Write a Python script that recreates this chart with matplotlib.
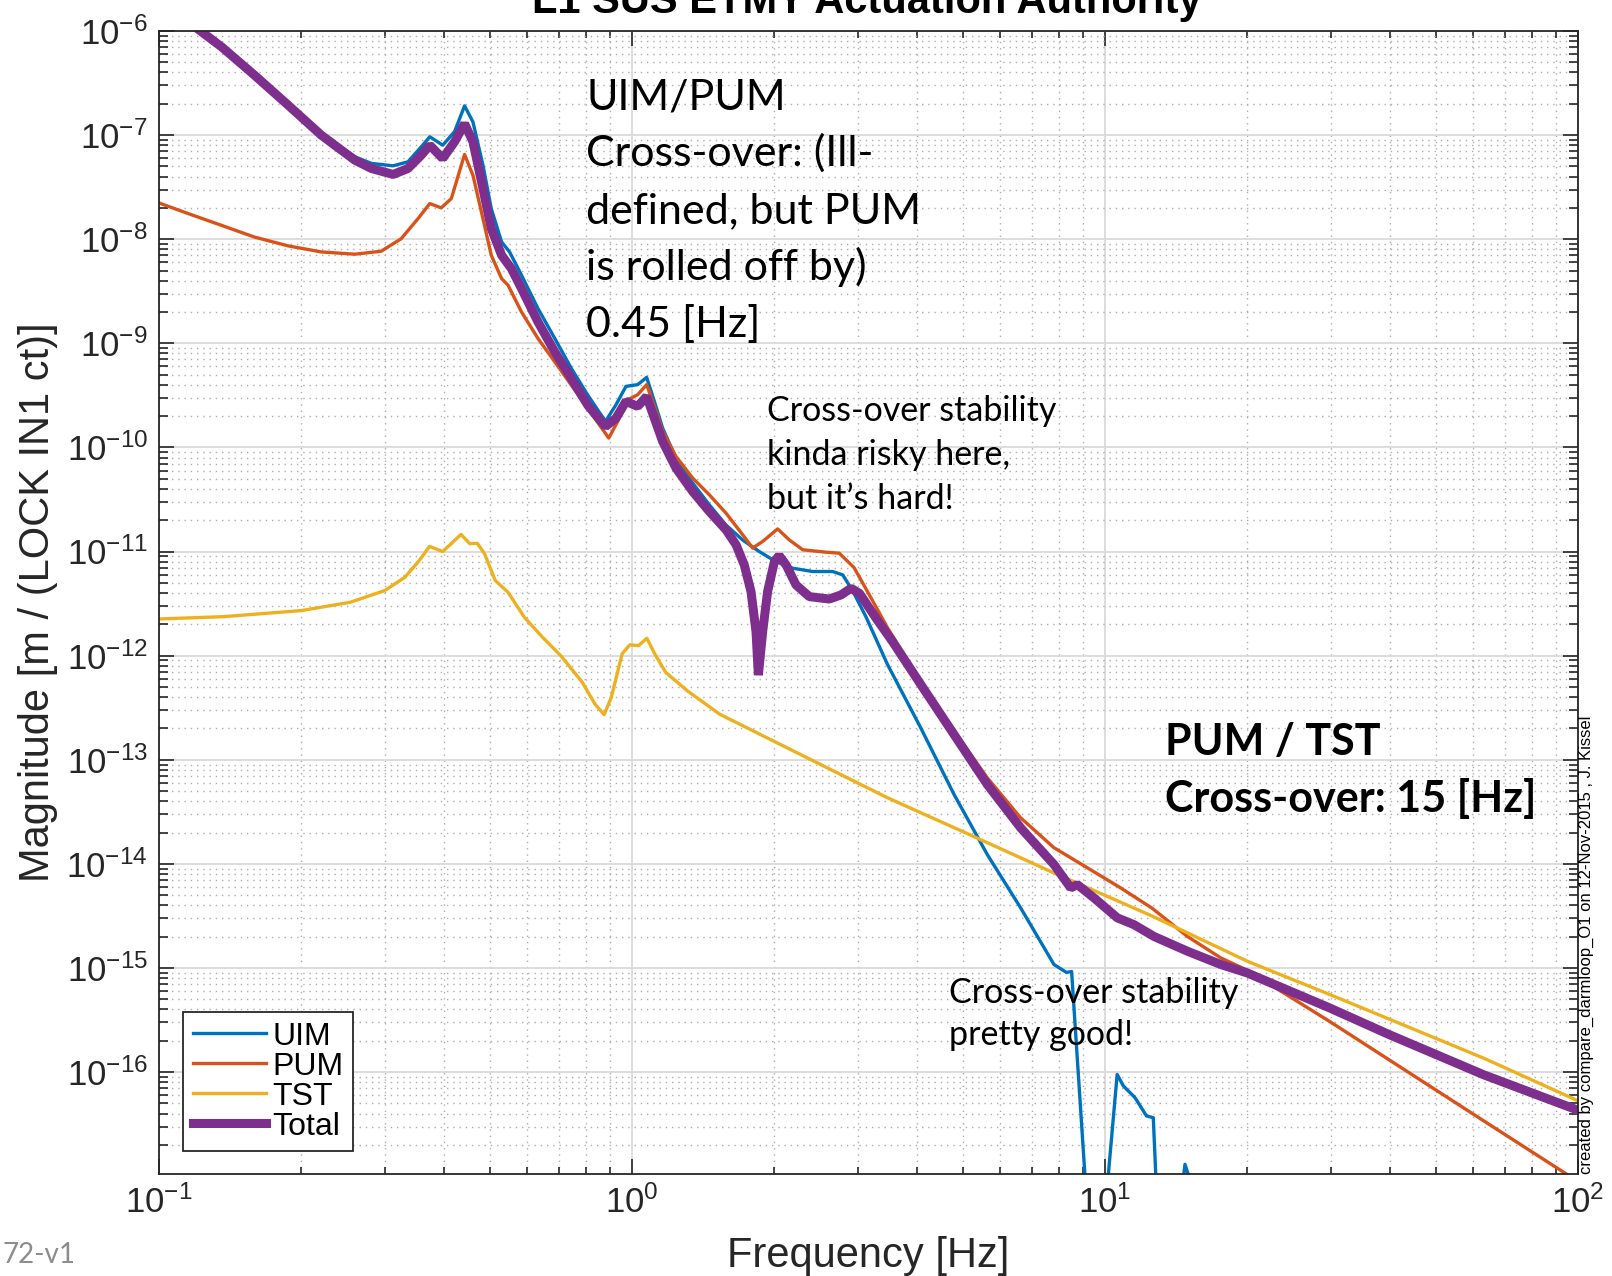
import numpy as np
import matplotlib
matplotlib.use("Agg")
import matplotlib.pyplot as plt
from matplotlib.ticker import LogLocator, NullFormatter

plt.rcParams['font.family'] = 'Liberation Sans'
plt.rcParams['mathtext.fontset'] = 'custom'
plt.rcParams['mathtext.rm'] = 'Liberation Sans'
plt.rcParams['mathtext.it'] = 'Liberation Sans:italic'
plt.rcParams['mathtext.bf'] = 'Liberation Sans:bold'
plt.rcParams['axes.unicode_minus'] = False

## actuator strength curves, |m / ct| vs Hz
freq_uim = [0.1, 0.120, 0.1355, 0.159, 0.1875, 0.2203, 0.2594, 0.2812, 0.3126, 0.336,
            0.3586, 0.3736, 0.398, 0.4216, 0.4426, 0.461, 0.484, 0.504, 0.530, 0.551,
            0.584, 0.633, 0.687, 0.745, 0.807, 0.879, 0.925, 0.971, 1.028, 1.074,
            1.115, 1.161, 1.239, 1.344, 1.457, 1.580, 1.714, 1.858, 2.015, 2.186,
            2.41, 2.656, 2.789, 2.928, 3.125, 3.467, 4.077, 4.795, 5.638, 6.632,
            7.8, 8.29, 8.50, 9.18, 10.0, 10.61, 10.93, 11.57, 12.24, 12.65,
            13.18, 14.45, 14.76, 15.49, 100]
mag_uim = [2.0e-6, 1.07e-6, 7.1e-7, 3.8e-7, 1.96e-7, 1.02e-7, 6.2e-8, 5.35e-8, 5.07e-8, 5.54e-8,
           7.73e-8, 9.64e-8, 8.0e-8, 1.08e-7, 1.91e-7, 1.34e-7, 5.15e-8, 1.97e-8, 9.42e-9, 7.55e-9,
           4.51e-9, 2.15e-9, 1.11e-9, 5.7e-10, 3.16e-10, 1.78e-10, 2.57e-10, 3.86e-10, 4.01e-10, 4.71e-10,
           2.77e-10, 1.53e-10, 7.89e-11, 4.54e-11, 2.81e-11, 1.80e-11, 1.29e-11, 1.0e-11, 8.0e-12, 6.92e-12,
           6.43e-12, 6.43e-12, 5.97e-12, 4.2e-12, 2.35e-12, 8.26e-13, 2.03e-13, 4.65e-14, 1.23e-14, 3.78e-15,
           1.08e-15, 9.06e-16, 9.25e-16, 4.4e-18, 4.5e-18, 9.5e-17, 7.38e-17, 5.69e-17, 3.79e-17, 3.65e-17,
           5e-19, 5.9e-18, 1.3e-17, 6.6e-18, 1e-20]

freq_pum = [0.1, 0.115, 0.1355, 0.159, 0.1875, 0.2203, 0.2594, 0.295, 0.325, 0.353,
            0.3736, 0.395, 0.415, 0.4426, 0.461, 0.484, 0.504, 0.530, 0.547, 0.584,
            0.633, 0.687, 0.745, 0.807, 0.893, 0.933, 0.979, 1.028, 1.074, 1.115,
            1.161, 1.239, 1.344, 1.457, 1.580, 1.714, 1.799, 1.889, 2.032, 2.152,
            2.296, 2.571, 2.743, 2.947, 3.199, 3.467, 4.077, 4.795, 5.638, 6.632,
            7.8, 9.18, 10.79, 12.58, 14.93, 17.57, 20.0, 29.9, 63.2, 100]
mag_pum = [2.23e-8, 1.77e-8, 1.36e-8, 1.05e-8, 8.63e-9, 7.55e-9, 7.18e-9, 7.67e-9, 1.01e-8, 1.58e-8,
           2.2e-8, 2.0e-8, 2.46e-8, 6.52e-8, 4.12e-8, 1.58e-8, 7.02e-9, 4.19e-9, 3.61e-9, 2.0e-9,
           1.11e-9, 6.62e-10, 3.94e-10, 2.36e-10, 1.23e-10, 1.78e-10, 2.87e-10, 3.21e-10, 4.01e-10, 2.48e-10,
           1.43e-10, 8.19e-11, 5.07e-11, 3.51e-11, 2.34e-11, 1.45e-11, 1.08e-11, 1.25e-11, 1.65e-11, 1.29e-11,
           1.04e-11, 9.86e-12, 9.64e-12, 7.02e-12, 3.61e-12, 1.86e-12, 5.70e-13, 1.89e-13, 6.71e-14, 2.77e-14,
           1.43e-14, 9.16e-15, 5.88e-15, 3.75e-15, 2.01e-15, 1.25e-15, 9.5e-16, 3.05e-16, 3.4e-17, 8.9e-18]

freq_tst = [0.1, 0.137, 0.2, 0.254, 0.3, 0.331, 0.355, 0.373, 0.398, 0.435,
            0.454, 0.471, 0.488, 0.514, 0.547, 0.592, 0.647, 0.707, 0.785, 0.835,
            0.873, 0.904, 0.953, 0.989, 1.033, 1.075, 1.117, 1.178, 1.309, 1.53,
            2.505, 3.467, 5.12, 7.8, 12.47, 20.0, 29.9, 63.2, 100]
mag_tst = [2.25e-12, 2.37e-12, 2.71e-12, 3.26e-12, 4.22e-12, 5.66e-12, 8.19e-12, 1.12e-11, 1.0e-11, 1.46e-11,
           1.19e-11, 1.20e-11, 9.5e-12, 5.26e-12, 4.06e-12, 2.34e-12, 1.50e-12, 1.0e-12, 5.55e-13, 3.43e-13,
           2.71e-13, 3.97e-13, 1.04e-12, 1.27e-12, 1.25e-12, 1.47e-12, 1.04e-12, 6.92e-13, 4.6e-13, 2.75e-13,
           9.0e-14, 4.32e-14, 1.95e-14, 8.18e-15, 3.21e-15, 1.16e-15, 5.55e-16, 1.36e-16, 5.3e-17]

freq_total = [0.1, 0.120, 0.1355, 0.159, 0.1875, 0.2203, 0.2594, 0.2812, 0.3126, 0.336,
              0.3586, 0.3736, 0.398, 0.4216, 0.4426, 0.461, 0.484, 0.504, 0.530, 0.556,
              0.584, 0.633, 0.687, 0.745, 0.807, 0.879, 0.925, 0.971, 1.028, 1.074,
              1.115, 1.161, 1.239, 1.344, 1.457, 1.580, 1.660, 1.727, 1.785, 1.829,
              1.850, 1.889, 1.935, 2.0, 2.047, 2.117, 2.222, 2.371, 2.612, 2.766,
              2.904, 3.026, 3.281, 3.557, 4.077, 4.795, 5.638, 6.632, 7.8, 8.46,
              8.74, 9.48, 10.62, 11.51, 12.69, 14.93, 17.57, 20.0, 29.9, 39.9,
              63.2, 100]
mag_total = [2.0e-6, 1.07e-6, 7.06e-7, 3.78e-7, 1.94e-7, 1.0e-7, 5.75e-8, 4.78e-8, 4.19e-8, 4.78e-8,
             6.43e-8, 8.0e-8, 5.97e-8, 8.63e-8, 1.29e-7, 8.63e-8, 3.07e-8, 1.27e-8, 7.02e-9, 5.22e-9,
             3.36e-9, 1.60e-9, 8.26e-10, 4.57e-10, 2.53e-10, 1.59e-10, 1.91e-10, 2.77e-10, 2.48e-10, 3.09e-10,
             1.91e-10, 1.14e-10, 6.33e-11, 3.77e-11, 2.43e-11, 1.62e-11, 1.16e-11, 7.45e-12, 4.12e-12, 1.70e-12,
             6.5e-13, 1.70e-12, 4.12e-12, 8.0e-12, 9.16e-12, 7.45e-12, 4.78e-12, 3.69e-12, 3.5e-12, 3.83e-12,
             4.44e-12, 3.97e-12, 2.29e-12, 1.36e-12, 5.30e-13, 1.75e-13, 5.79e-14, 2.22e-14, 9.86e-15, 5.88e-15,
             6.32e-15, 4.71e-15, 3.03e-15, 2.61e-15, 2.01e-15, 1.45e-15, 1.08e-15, 8.95e-16, 4.12e-16, 2.29e-16,
             9.42e-17, 4.3e-17]

W, H = 1612, 1276
fig = plt.figure(figsize=(W / 100, H / 100), dpi=100)
ax = fig.add_axes([159 / W, 1 - 1174 / H, (1578 - 159) / W, (1174 - 31) / H])

ax.loglog(freq_uim, mag_uim, color='#0072BD', lw=2.4, label='UIM')
ax.loglog(freq_pum, mag_pum, color='#D95319', lw=2.4, label='PUM')
ax.loglog(freq_tst, mag_tst, color='#EDB120', lw=2.4, label='TST')
ax.loglog(freq_total, mag_total, color='#7E2F8E', lw=6.5, label='Total',
          solid_joinstyle='bevel')

ax.set_xlim(0.1, 100)
ax.set_ylim(1.05e-17, 1e-6)

ax.xaxis.set_major_locator(LogLocator(base=10, numticks=20))
ax.xaxis.set_minor_locator(LogLocator(base=10, subs=np.arange(2, 10), numticks=20))
ax.yaxis.set_major_locator(LogLocator(base=10, numticks=30))
ax.yaxis.set_minor_locator(LogLocator(base=10, subs=np.arange(2, 10), numticks=30))
ax.xaxis.set_minor_formatter(NullFormatter())
ax.yaxis.set_minor_formatter(NullFormatter())

dark = '#262626'
ax.tick_params(which='both', direction='in', top=True, right=True,
               colors=dark, labelsize=25, width=1.2)
ax.tick_params(which='major', length=10.5, pad=8)
ax.tick_params(axis='x', which='minor', length=5)
ax.tick_params(axis='y', which='minor', length=6.5)
for s in ax.spines.values():
    s.set_color(dark)
    s.set_linewidth(1.3)

ax.set_axisbelow(True)
ax.grid(which='major', color='#dadada', lw=1.3, ls='-')
ax.grid(which='minor', color='#adadad', lw=1.0, ls=(0, (1, 3.5)))

ax.set_xlabel('Frequency [Hz]', fontsize=30, color=dark, labelpad=12)
ax.set_ylabel('Magnitude [m / (LOCK IN1 ct)]', fontsize=30, color=dark, labelpad=6)

fig.text(867 / W, 1 - 13 / H, 'L1 SUS ETMY Actuation Authority', ha='center',
         va='baseline', fontsize=30, fontweight='bold')

leg = ax.legend(loc='lower left', bbox_to_anchor=(0.0169, 0.020), fontsize=23,
                frameon=True, fancybox=False, edgecolor=dark, framealpha=1,
                borderpad=0.3, labelspacing=0.0, handlelength=2.3,
                handletextpad=0.2, borderaxespad=0)
leg.get_frame().set_linewidth(1.3)


# multi-line notes placed by pixel position of the first baseline
def note(lines, x, y0, step, **kw):
    for i, s in enumerate(lines):
        fig.text(x / W, 1 - (y0 + i * step) / H, s, va='baseline', **kw)


note(['UIM/PUM', 'Cross-over: (Ill-', 'defined, but PUM', 'is rolled off by)', '0.45 [Hz]'],
     586, 109, 56.9, family='Lato', fontsize=31)
note(['Cross-over stability', 'kinda risky here,', 'but it\u2019s hard!'],
     767, 421, 44, family='Lato', fontsize=24.5)
note(['Cross-over stability', 'pretty good!'],
     949, 1003, 42, family='Lato', fontsize=24.5)
note(['PUM / TST', 'Cross-over: 15 [Hz]'],
     1165, 755, 57, family='Lato', fontsize=31, fontweight='bold')

fig.text(1586 / W, 1 - 1174 / H, 'created by compare_darmloop_O1 on 12-Nov-2015 , J. Kissel',
         rotation=90, ha='center', va='bottom', fontsize=12)
fig.text(2 / W, 1 - 1263 / H, '72-v1', color='#8c8c8c', fontsize=20, family='Lato',
         va='baseline')

fig.savefig('out.png', dpi=100)
